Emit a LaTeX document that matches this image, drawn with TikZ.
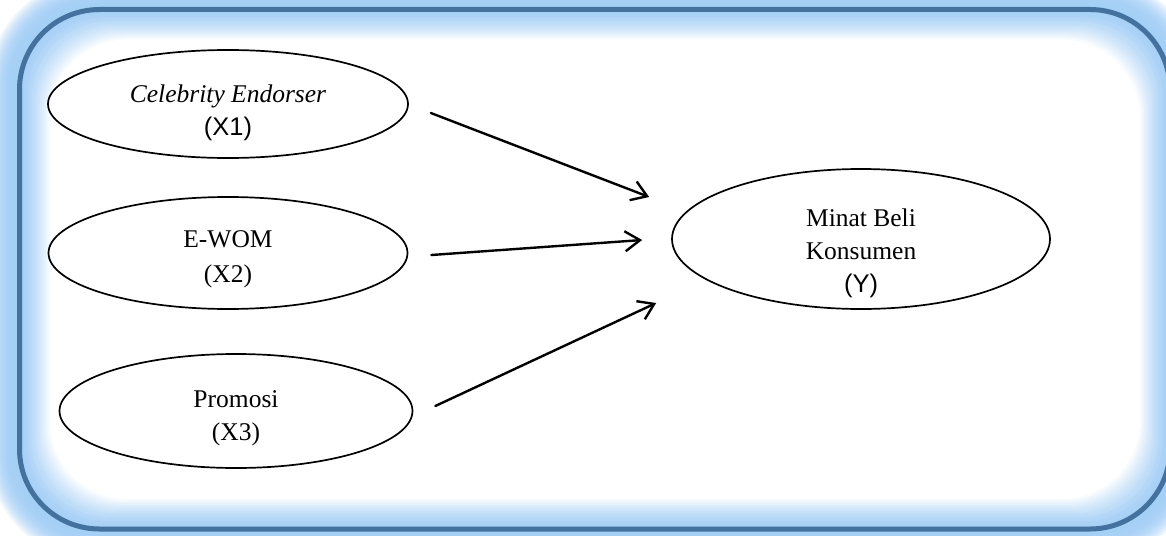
\documentclass[tikz,border=0pt]{standalone}
\usepackage{fontspec}
\setmainfont{Liberation Serif}
\newfontfamily\arialf{Liberation Sans}
\usetikzlibrary{shapes.geometric,arrows.meta}
\definecolor{glowblue}{RGB}{164,207,246}
\definecolor{framecol}{RGB}{68,113,157}
\tikzset{
  oval/.style={ellipse, draw=black, line width=1.7pt, fill=white, inner sep=0pt},
  lbl/.style={anchor=base, inner sep=0pt, font=\fontsize{25.5}{33}\selectfont},
  conn/.style={line width=2.4pt, -{Straight Barb[length=15pt,width=20pt]}, line cap=round}
}
\begin{document}
\begin{tikzpicture}[x=1pt,y=-1pt]
\useasboundingbox (0,0) rectangle (1166,535);
\clip (0,0) rectangle (1166,535);
\fill[white] (0,0) rectangle (1166,535);
% outer glow
\foreach \d in {34,32,...,2}{
  \pgfmathtruncatemacro\p{100*(1-(\d/34)^3)}
  \pgfmathsetmacro\rr{78+\d}
  \fill[glowblue!\p!white, rounded corners=\rr pt] (19.5-\d,9.5-\d) rectangle (1170+\d,529+\d);
}
% inner glow
\foreach \d in {0,2,...,28}{
  \pgfmathtruncatemacro\p{100*(1-(\d/30)^1.5)}
  \fill[glowblue!\p!white, rounded corners=78pt] (19.5+\d,9.5+\d) rectangle (1170-\d,529-\d);
}
\fill[white, rounded corners=78pt] (49.5,39.5) rectangle (1140,499);
% frame
\draw[framecol, line width=5pt, rounded corners=80pt] (19.5,9.5) rectangle (1170,529);

% ellipses
\node[oval, minimum width=360pt, minimum height=108pt] (x1) at (228,104) {};
\node[oval, minimum width=359pt, minimum height=112pt] (x2) at (228,253) {};
\node[oval, minimum width=353pt, minimum height=114pt] (x3) at (236,411) {};
\node[oval, minimum width=378pt, minimum height=140pt] (y) at (861,239) {};

% labels
\node[lbl] (x1a) at (228,102) {\itshape Celebrity Endorser};
\node[lbl] (x1b) at (228,135) {\arialf (X1)};
\node[lbl] (x2a) at (228,247) {E-WOM};
\node[lbl] (x2b) at (228,282) {(X2)};
\node[lbl] (x3a) at (236,407) {Promosi};
\node[lbl] (x3b) at (236,440) {(X3)};
\node[lbl] (ya) at (861,226) {Minat Beli};
\node[lbl] (yb) at (861,259) {Konsumen};
\node[lbl] (yc) at (861,292) {\arialf (Y)};

% connectors
\draw[conn] ([shift={(22,9)}]x1.east) -- ([shift={(-22,-42)}]y.west);
\draw[conn] ([shift={(23,2)}]x2.east) -- ([shift={(-29,1)}]y.west);
\draw[conn] ([shift={(22,-5)}]x3.east) -- ([shift={(-15,64)}]y.west);
\end{tikzpicture}
\end{document}
